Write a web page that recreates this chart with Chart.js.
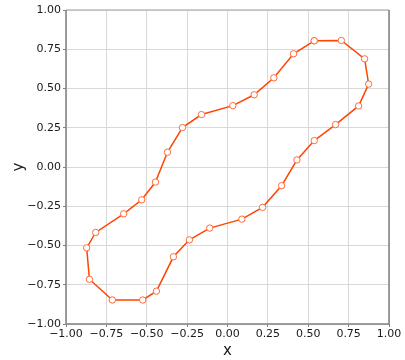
<!DOCTYPE html>
<html>
<head>
<meta charset="utf-8">
<script src="https://cdn.jsdelivr.net/npm/chart.js@4/dist/chart.umd.min.js"></script>
<style>
  html, body { margin: 0; padding: 0; background: #fff; }
  canvas { display: block; }
</style>
</head>
<body>
<canvas id="loopChart" width="405" height="360"></canvas>
<script>
// closed loop, traced clockwise from the top
const xs = [0.537, 0.705, 0.849, 0.874, 0.812, 0.669, 0.537, 0.430, 0.335, 0.217,
            0.089, -0.110, -0.236, -0.335, -0.440, -0.525, -0.713, -0.855, -0.872, -0.816,
            -0.643, -0.531, -0.446, -0.372, -0.279, -0.161, 0.033, 0.165, 0.287, 0.409, 0.537]
const ys = [0.804, 0.806, 0.689, 0.528, 0.389, 0.270, 0.168, 0.045, -0.119, -0.257,
            -0.332, -0.389, -0.464, -0.572, -0.791, -0.847, -0.847, -0.715, -0.515, -0.417,
            -0.298, -0.209, -0.096, 0.094, 0.251, 0.334, 0.391, 0.460, 0.568, 0.721, 0.804]
const axisMin = -1
const axisMax = 1
const tickStep = 0.25

const fmt = v => v.toFixed(2).replace('-', '\u2212')

// box around the plot area
const frame = {
  id: 'frame',
  afterDraw(chart) {
    const { ctx, chartArea: a } = chart
    ctx.save()
    ctx.lineWidth = 1.5
    ctx.strokeStyle = '#bdbdbd'
    ctx.beginPath()
    ctx.moveTo(a.left, a.top)
    ctx.lineTo(a.right, a.top)
    ctx.stroke()
    ctx.strokeStyle = '#808080'
    ctx.beginPath()
    ctx.moveTo(a.right, a.top)
    ctx.lineTo(a.right, a.bottom)
    ctx.lineTo(a.left, a.bottom)
    ctx.lineTo(a.left, a.top)
    ctx.stroke()
    ctx.restore()
  }
}

const tickFont = { family: 'DejaVu Sans', size: 11 }
const titleFont = { family: 'DejaVu Sans', size: 15 }

new Chart(document.getElementById('loopChart'), {
  type: 'scatter',
  data: {
    datasets: [{
      data: xs.map((x, i) => ({ x: x, y: ys[i] })),
      showLine: true,
      borderColor: '#ff4500',
      borderWidth: 1.5,
      pointRadius: 3.2,
      pointBorderWidth: 1,
      pointBackgroundColor: '#ffffff',
      pointBorderColor: '#ff6a3d'
    }]
  },
  options: {
    responsive: false,
    animation: false,
    layout: { padding: { left: 10, top: 10, right: 16, bottom: 0 } },
    plugins: { legend: { display: false }, tooltip: { enabled: false } },
    scales: {
      x: {
        type: 'linear',
        min: axisMin,
        max: axisMax,
        afterFit: s => { s.height = 36 },
        afterBuildTicks: s => { s.ticks = []; for (let v = axisMin; v <= axisMax + 1e-9; v += tickStep) s.ticks.push({ value: v }) },
        ticks: { color: '#1a1a1a', font: tickFont, padding: 1, maxRotation: 0, autoSkip: false, callback: fmt },
        grid: { color: '#d9d9d9', tickColor: '#808080', tickLength: 3 },
        border: { display: false },
        title: { display: true, text: 'x', color: '#1a1a1a', font: titleFont, padding: 0 }
      },
      y: {
        type: 'linear',
        min: axisMin,
        max: axisMax,
        afterFit: s => { s.width = 56 },
        afterBuildTicks: s => { s.ticks = []; for (let v = axisMin; v <= axisMax + 1e-9; v += tickStep) s.ticks.push({ value: v }) },
        ticks: { color: '#1a1a1a', font: tickFont, padding: 2, autoSkip: false, callback: fmt },
        grid: { color: '#d9d9d9', tickColor: '#808080', tickLength: 3 },
        border: { display: false },
        title: { display: true, text: 'y', color: '#1a1a1a', font: titleFont, padding: 0 }
      }
    }
  },
  plugins: [frame]
})
</script>
</body>
</html>
